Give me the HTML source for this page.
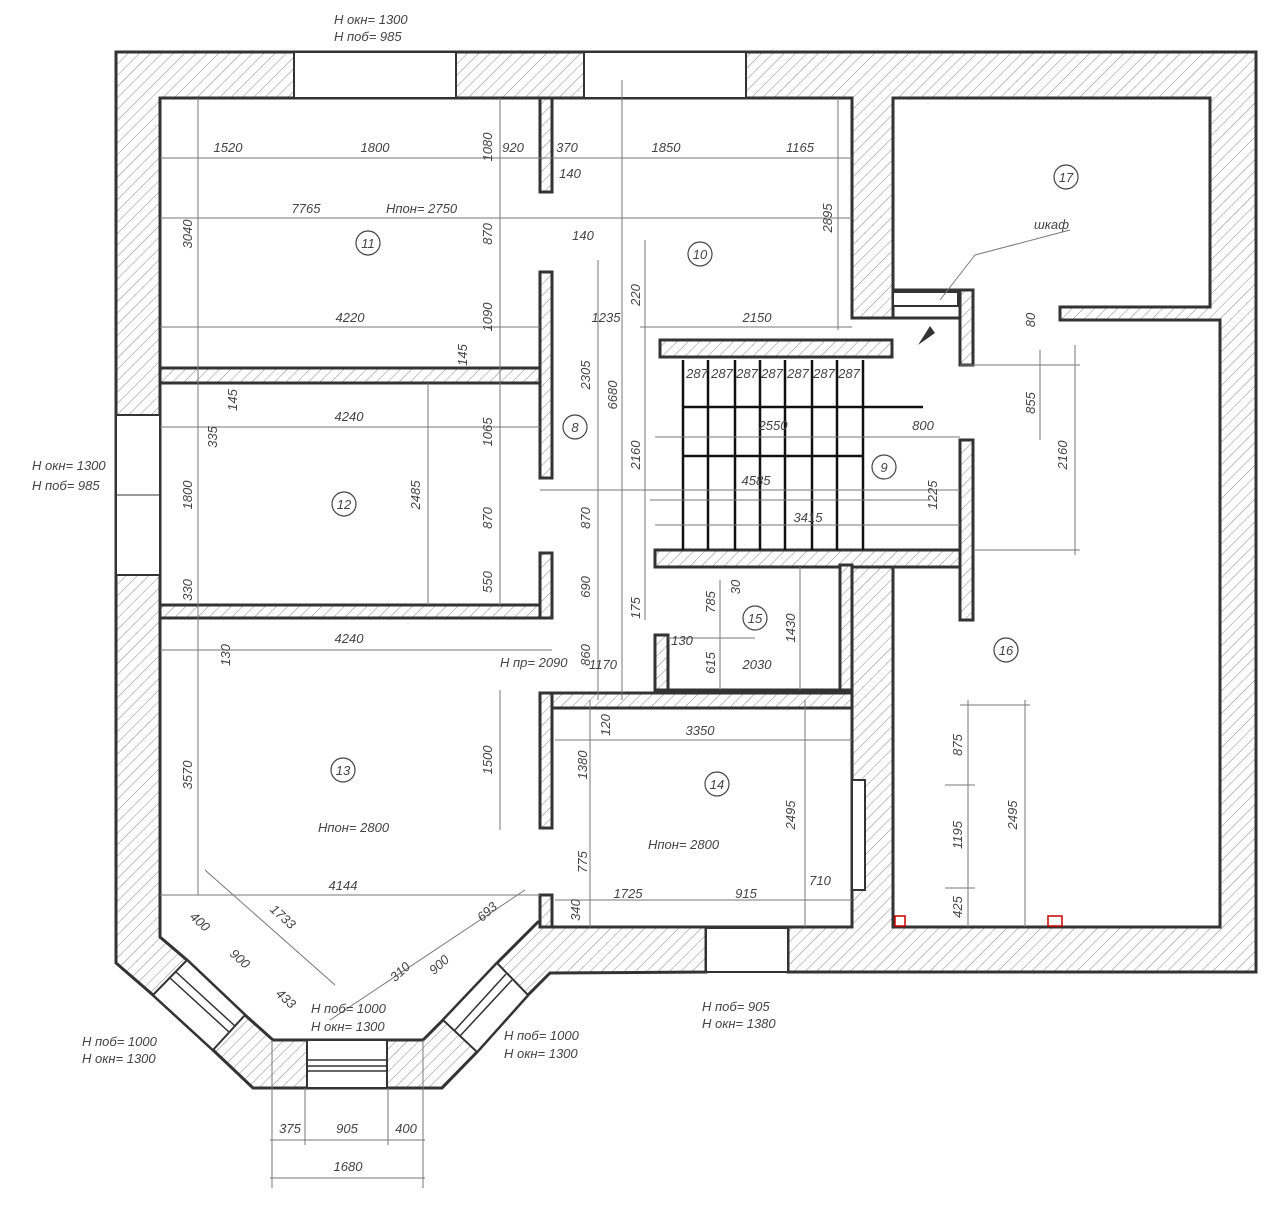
<!DOCTYPE html>
<html><head><meta charset="utf-8"><style>
html,body{margin:0;padding:0;background:#fff}
svg{display:block}
text{font-family:"Liberation Sans",sans-serif;font-style:italic;font-size:13px;fill:#444}
.t{font-size:12px;fill:#555}
</style></head><body>
<svg width="1280" height="1224" viewBox="0 0 1280 1224" xmlns="http://www.w3.org/2000/svg">
<defs>
<pattern id="h" patternUnits="userSpaceOnUse" width="8" height="8" patternTransform="rotate(45)">
<rect width="8" height="8" fill="#fff"/><line x1="0" y1="0" x2="0" y2="8" stroke="#888" stroke-width="1"/>
</pattern>
</defs>
<g stroke="#333" stroke-width="3" stroke-linejoin="miter">
<!-- outer wall -->
<path fill="url(#h)" fill-rule="evenodd" d="M116,52 L1256,52 L1256,972 L788,972 L788,930 L706,930 L706,972 L550,973 L528,995 L477,1052 L442,1088 L253,1088 L213,1050 L153,995 L116,963 Z
M160,98 L852,98 L852,318 L893,318 L893,98 L1210,98 L1210,307 L1060,307 L1060,320 L1220,320 L1220,927 L893,927 L893,565 L852,565 L852,927 L552,927 L552,922 L538,922 L497,963 L443,1020 L423,1040 L273,1040 L245,1015 L187,960 L160,937 Z"/>
<!-- windows -->
<g stroke-width="2">
<rect x="294" y="52" width="162" height="46" fill="#fff"/>
<rect x="584" y="52" width="162" height="46" fill="#fff"/>
<rect x="116" y="415" width="44" height="160" fill="#fff"/>
<rect x="706" y="928" width="82" height="44" fill="#fff"/>
<rect x="307" y="1040" width="80" height="48" fill="#fff"/>
<polygon points="153,995 187,960 245,1015 213,1050" fill="#fff"/>
<polygon points="497,963 528,995 477,1052 443,1020" fill="#fff"/>
</g>
<g stroke-width="1.5">
<line x1="307" y1="1060" x2="387" y2="1060"/><line x1="307" y1="1066" x2="387" y2="1066"/><line x1="307" y1="1071" x2="387" y2="1071"/>
<line x1="170" y1="978" x2="229" y2="1032"/><line x1="176" y1="972" x2="235" y2="1026"/>
<line x1="512" y1="980" x2="460" y2="1036"/><line x1="506" y1="974" x2="455" y2="1030"/>
<line x1="116" y1="495" x2="160" y2="495" stroke-width="1"/>
</g>
<!-- interior walls -->
<rect x="160" y="368" width="380" height="15" fill="url(#h)"/>
<rect x="160" y="605" width="392" height="13" fill="url(#h)"/>
<rect x="540" y="98" width="12" height="94" fill="url(#h)"/>
<rect x="540" y="272" width="12" height="206" fill="url(#h)"/>
<rect x="540" y="553" width="12" height="65" fill="url(#h)"/>
<rect x="660" y="340" width="232" height="17" fill="url(#h)"/>
<rect x="655" y="550" width="310" height="17" fill="url(#h)"/>
<rect x="960" y="290" width="13" height="75" fill="url(#h)"/>
<rect x="960" y="440" width="13" height="180" fill="url(#h)"/>
<rect x="893" y="290" width="67" height="28" fill="#fff"/>
<rect x="655" y="635" width="13" height="55" fill="url(#h)"/>
<rect x="655" y="690" width="197" height="3" fill="#333"/>
<rect x="840" y="565" width="12" height="125" fill="url(#h)"/>
<rect x="540" y="693" width="312" height="15" fill="url(#h)"/>
<rect x="540" y="693" width="12" height="135" fill="url(#h)"/>
<rect x="540" y="895" width="12" height="32" fill="url(#h)"/>
<rect x="852" y="780" width="13" height="110" fill="#fff" stroke-width="2"/>
<rect x="893" y="292" width="65" height="14" fill="#fff" stroke-width="2"/>
</g>
<!-- stairs -->
<g stroke="#111" stroke-width="2.5">
<line x1="683" y1="360" x2="683" y2="550"/><line x1="708" y1="360" x2="708" y2="550"/>
<line x1="735" y1="360" x2="735" y2="550"/><line x1="760" y1="360" x2="760" y2="550"/>
<line x1="785" y1="360" x2="785" y2="550"/><line x1="812" y1="360" x2="812" y2="550"/>
<line x1="837" y1="360" x2="837" y2="550"/><line x1="863" y1="360" x2="863" y2="550"/>
<line x1="683" y1="407" x2="923" y2="407"/><line x1="683" y1="456" x2="863" y2="456"/>
</g>
<!-- dimension lines -->
<g stroke="#777" stroke-width="1" fill="none">
<line x1="160" y1="158" x2="852" y2="158"/><line x1="160" y1="218" x2="852" y2="218"/>
<line x1="160" y1="327" x2="540" y2="327"/><line x1="160" y1="427" x2="540" y2="427"/>
<line x1="160" y1="650" x2="552" y2="650"/><line x1="160" y1="895" x2="540" y2="895"/>
<line x1="198" y1="98" x2="198" y2="895"/><line x1="500" y1="98" x2="500" y2="605"/>
<line x1="428" y1="383" x2="428" y2="605"/><line x1="598" y1="260" x2="598" y2="700"/>
<line x1="622" y1="80" x2="622" y2="700"/><line x1="645" y1="240" x2="645" y2="620"/>
<line x1="640" y1="327" x2="852" y2="327"/><line x1="655" y1="437" x2="960" y2="437"/>
<line x1="655" y1="525" x2="960" y2="525"/><line x1="650" y1="500" x2="930" y2="500"/>
<line x1="540" y1="490" x2="960" y2="490"/>
<line x1="838" y1="98" x2="838" y2="330"/><line x1="1040" y1="350" x2="1040" y2="440"/>
<line x1="1075" y1="345" x2="1075" y2="555"/><line x1="960" y1="365" x2="1080" y2="365"/>
<line x1="975" y1="550" x2="1080" y2="550"/>
<line x1="555" y1="740" x2="852" y2="740"/><line x1="555" y1="900" x2="852" y2="900"/>
<line x1="590" y1="700" x2="590" y2="927"/><line x1="805" y1="700" x2="805" y2="927"/>
<line x1="500" y1="690" x2="500" y2="830"/><line x1="968" y1="700" x2="968" y2="927"/>
<line x1="1025" y1="700" x2="1025" y2="927"/><line x1="960" y1="705" x2="1030" y2="705"/>
<line x1="945" y1="785" x2="975" y2="785"/><line x1="945" y1="888" x2="975" y2="888"/>
<line x1="205" y1="870" x2="335" y2="985"/><line x1="330" y1="1020" x2="525" y2="890"/>
<line x1="270" y1="1140" x2="425" y2="1140"/><line x1="270" y1="1178" x2="425" y2="1178"/>
<line x1="272" y1="1040" x2="272" y2="1188"/><line x1="305" y1="1088" x2="305" y2="1145"/>
<line x1="388" y1="1088" x2="388" y2="1145"/><line x1="423" y1="1040" x2="423" y2="1188"/>
<line x1="668" y1="638" x2="755" y2="638"/><line x1="720" y1="580" x2="720" y2="690"/>
<line x1="800" y1="567" x2="800" y2="690"/><line x1="940" y1="300" x2="975" y2="255"/>
<line x1="975" y1="255" x2="1070" y2="230"/>
</g>
<polygon points="918,345 930,326 935,333" fill="#333"/>
<g stroke="#c00" stroke-width="1.5" fill="none">
<rect x="895" y="916" width="10" height="10"/><rect x="1048" y="916" width="14" height="10"/>
</g>
<!-- room numbers -->
<g fill="none" stroke="#444" stroke-width="1.2">
<circle cx="368" cy="243" r="12"/><circle cx="700" cy="254" r="12"/><circle cx="1066" cy="177" r="12"/>
<circle cx="575" cy="427" r="12"/><circle cx="884" cy="467" r="12"/><circle cx="344" cy="504" r="12"/>
<circle cx="755" cy="618" r="12"/><circle cx="1006" cy="650" r="12"/><circle cx="343" cy="770" r="12"/>
<circle cx="717" cy="784" r="12"/>
</g>
<g text-anchor="middle" style="font-size:14px">
<text x="368" y="248">11</text><text x="700" y="259">10</text><text x="1066" y="182">17</text>
<text x="575" y="432">8</text><text x="884" y="472">9</text><text x="344" y="509">12</text>
<text x="755" y="623">15</text><text x="1006" y="655">16</text><text x="343" y="775">13</text>
<text x="717" y="789">14</text>
</g>
<g class="t" text-anchor="middle">
<text x="228" y="152">1520</text><text x="375" y="152">1800</text><text x="513" y="152">920</text>
<text x="567" y="152">370</text><text x="666" y="152">1850</text><text x="800" y="152">1165</text>
<text x="570" y="178">140</text><text x="583" y="240">140</text>
<text x="306" y="213">7765</text><text x="350" y="322">4220</text><text x="606" y="322">1235</text>
<text x="757" y="322">2150</text><text x="349" y="421">4240</text><text x="349" y="643">4240</text>
<text x="343" y="890">4144</text><text x="773" y="430">2550</text><text x="923" y="430">800</text>
<text x="756" y="485">4585</text><text x="808" y="522">3415</text><text x="700" y="735">3350</text>
<text x="757" y="669">2030</text><text x="603" y="669">1170</text><text x="682" y="645">130</text>
<text x="628" y="898">1725</text><text x="746" y="898">915</text><text x="820" y="885">710</text>
<text x="290" y="1133">375</text><text x="347" y="1133">905</text><text x="406" y="1133">400</text>
<text x="348" y="1171">1680</text>
<text x="697" y="378">287</text><text x="722" y="378">287</text><text x="747" y="378">287</text>
<text x="772" y="378">287</text><text x="798" y="378">287</text><text x="824" y="378">287</text><text x="849" y="378">287</text>
</g>
<g class="t" text-anchor="middle">
<text transform="translate(192,234) rotate(-90)">3040</text>
<text transform="translate(492,147) rotate(-90)">1080</text>
<text transform="translate(492,234) rotate(-90)">870</text>
<text transform="translate(492,317) rotate(-90)">1090</text>
<text transform="translate(467,355) rotate(-90)">145</text>
<text transform="translate(237,400) rotate(-90)">145</text>
<text transform="translate(217,437) rotate(-90)">335</text>
<text transform="translate(192,495) rotate(-90)">1800</text>
<text transform="translate(420,495) rotate(-90)">2485</text>
<text transform="translate(492,432) rotate(-90)">1065</text>
<text transform="translate(492,518) rotate(-90)">870</text>
<text transform="translate(492,582) rotate(-90)">550</text>
<text transform="translate(192,590) rotate(-90)">330</text>
<text transform="translate(230,655) rotate(-90)">130</text>
<text transform="translate(192,775) rotate(-90)">3570</text>
<text transform="translate(590,375) rotate(-90)">2305</text>
<text transform="translate(617,395) rotate(-90)">6680</text>
<text transform="translate(590,518) rotate(-90)">870</text>
<text transform="translate(590,587) rotate(-90)">690</text>
<text transform="translate(590,655) rotate(-90)">860</text>
<text transform="translate(640,295) rotate(-90)">220</text>
<text transform="translate(640,455) rotate(-90)">2160</text>
<text transform="translate(640,608) rotate(-90)">175</text>
<text transform="translate(832,218) rotate(-90)">2895</text>
<text transform="translate(715,602) rotate(-90)">785</text>
<text transform="translate(740,587) rotate(-90)">30</text>
<text transform="translate(715,663) rotate(-90)">615</text>
<text transform="translate(795,628) rotate(-90)">1430</text>
<text transform="translate(937,495) rotate(-90)">1225</text>
<text transform="translate(1035,320) rotate(-90)">80</text>
<text transform="translate(1035,403) rotate(-90)">855</text>
<text transform="translate(1067,455) rotate(-90)">2160</text>
<text transform="translate(492,760) rotate(-90)">1500</text>
<text transform="translate(587,765) rotate(-90)">1380</text>
<text transform="translate(610,725) rotate(-90)">120</text>
<text transform="translate(587,862) rotate(-90)">775</text>
<text transform="translate(580,910) rotate(-90)">340</text>
<text transform="translate(795,815) rotate(-90)">2495</text>
<text transform="translate(962,745) rotate(-90)">875</text>
<text transform="translate(962,835) rotate(-90)">1195</text>
<text transform="translate(962,907) rotate(-90)">425</text>
<text transform="translate(1017,815) rotate(-90)">2495</text>
<text transform="translate(280,920) rotate(42)">1733</text>
<text transform="translate(237,962) rotate(42)">900</text>
<text transform="translate(283,1002) rotate(42)">433</text>
<text transform="translate(197,925) rotate(42)">400</text>
<text transform="translate(442,968) rotate(-42)">900</text>
<text transform="translate(403,975) rotate(-42)">310</text>
<text transform="translate(490,915) rotate(-42)">693</text>
</g>
<g style="font-size:12px">
<text x="334" y="24">Н окн= 1300</text><text x="334" y="41">Н поб= 985</text>
<text x="32" y="470">Н окн= 1300</text><text x="32" y="490">Н поб= 985</text>
<text x="386" y="213">Нпон= 2750</text><text x="1034" y="229">шкаф</text>
<text x="500" y="667">Н пр= 2090</text>
<text x="318" y="832">Нпон= 2800</text><text x="648" y="849">Нпон= 2800</text>
<text x="311" y="1013">Н поб= 1000</text><text x="311" y="1031">Н окн= 1300</text>
<text x="82" y="1046">Н поб= 1000</text><text x="82" y="1063">Н окн= 1300</text>
<text x="504" y="1040">Н поб= 1000</text><text x="504" y="1058">Н окн= 1300</text>
<text x="702" y="1011">Н поб= 905</text><text x="702" y="1028">Н окн= 1380</text>
</g>
</svg>
</body></html>
